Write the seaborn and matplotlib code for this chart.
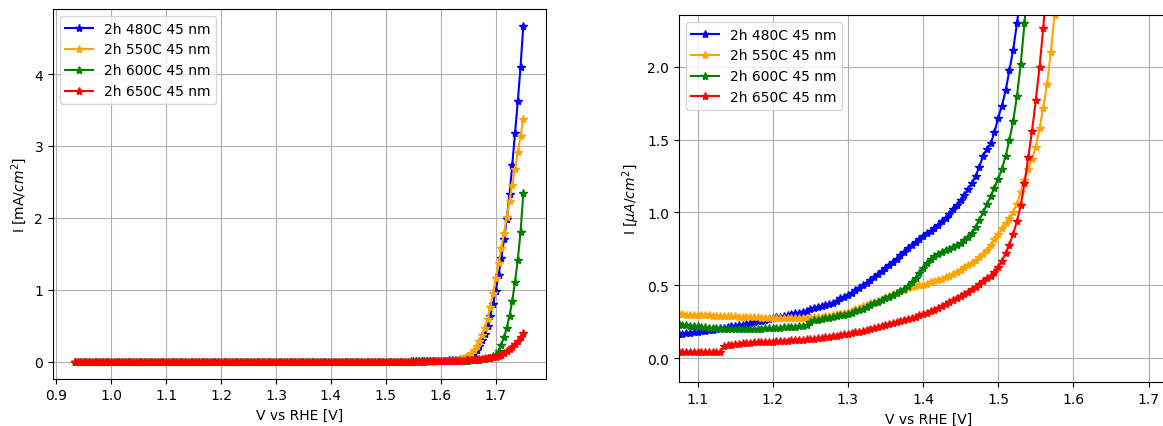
import numpy as np
import matplotlib
matplotlib.use("Agg")
import matplotlib.pyplot as plt
import seaborn as sns

# Voltage sweep grid (V vs RHE): start and step of the measurement
V_START = 0.935
V_STEP = 0.005

labels = ["2h 480C 45 nm", "2h 550C 45 nm", "2h 600C 45 nm", "2h 650C 45 nm"]
colors = ["blue", "orange", "green", "red"]

# Current densities in uA/cm^2, one value per sweep point (0.935 ... 1.750 V)
i_480 = [
    0.12, 0.121, 0.122, 0.123, 0.124, 0.125, 0.126, 0.127, 0.128, 0.129,
    0.13, 0.131, 0.133, 0.134, 0.136, 0.137, 0.139, 0.14, 0.142, 0.143,
    0.145, 0.147, 0.149, 0.151, 0.153, 0.155, 0.158, 0.161, 0.165, 0.168,
    0.172, 0.175, 0.178, 0.182, 0.185, 0.188, 0.192, 0.195, 0.199, 0.204,
    0.208, 0.212, 0.217, 0.221, 0.225, 0.23, 0.234, 0.24, 0.245, 0.251,
    0.257, 0.263, 0.268, 0.273, 0.279, 0.285, 0.29, 0.296, 0.301, 0.306,
    0.312, 0.319, 0.326, 0.334, 0.341, 0.348, 0.355, 0.362, 0.369, 0.38,
    0.395, 0.41, 0.422, 0.435, 0.45, 0.465, 0.482, 0.5, 0.518, 0.537,
    0.557, 0.577, 0.597, 0.618, 0.639, 0.66, 0.683, 0.706, 0.73, 0.754,
    0.778, 0.8, 0.82, 0.84, 0.858, 0.875, 0.895, 0.917, 0.94, 0.965,
    0.993, 1.022, 1.052, 1.083, 1.12, 1.16, 1.2, 1.25, 1.315, 1.39,
    1.435, 1.475, 1.55, 1.65, 1.735, 1.84, 1.98, 2.12, 2.3, 2.5,
    2.75, 3.0, 3.3, 3.65, 4.05, 4.5, 5.0, 5.6, 6.3, 7.1,
    8.0, 9.0, 10.2, 11.6, 13.3, 15.3, 17.7, 20.5, 24, 28,
    33, 39, 47, 58, 80, 115, 160, 220, 300, 390,
    500, 640, 800, 990, 1200, 1440, 1700, 1990, 2330, 2740,
    3180, 3620, 4100, 4670,
]

i_550 = [
    0.33, 0.33, 0.329, 0.329, 0.328, 0.327, 0.326, 0.325, 0.324, 0.323,
    0.322, 0.321, 0.32, 0.319, 0.318, 0.317, 0.316, 0.315, 0.314, 0.313,
    0.312, 0.311, 0.31, 0.309, 0.308, 0.307, 0.305, 0.304, 0.302, 0.3,
    0.299, 0.298, 0.297, 0.296, 0.295, 0.294, 0.293, 0.292, 0.291, 0.29,
    0.289, 0.288, 0.287, 0.286, 0.285, 0.284, 0.283, 0.282, 0.28, 0.279,
    0.278, 0.277, 0.276, 0.275, 0.274, 0.274, 0.273, 0.273, 0.273, 0.273,
    0.274, 0.275, 0.277, 0.279, 0.281, 0.283, 0.285, 0.288, 0.291, 0.295,
    0.3, 0.305, 0.311, 0.318, 0.326, 0.335, 0.345, 0.355, 0.365, 0.375,
    0.385, 0.395, 0.405, 0.415, 0.426, 0.437, 0.448, 0.459, 0.469, 0.478,
    0.486, 0.493, 0.499, 0.505, 0.512, 0.52, 0.528, 0.537, 0.546, 0.556,
    0.566, 0.578, 0.592, 0.607, 0.622, 0.638, 0.655, 0.673, 0.694, 0.716,
    0.742, 0.775, 0.815, 0.855, 0.89, 0.925, 0.96, 1.005, 1.06, 1.14,
    1.225, 1.3, 1.37, 1.45, 1.58, 1.72, 1.88, 2.1, 2.36, 2.7,
    3.1, 3.6, 4.2, 5.0, 6.2, 7.8, 10, 13, 17.5, 24,
    33, 45, 62, 86, 118, 160, 215, 285, 370, 470,
    600, 760, 950, 1160, 1370, 1580, 1790, 2010, 2240, 2460,
    2680, 2910, 3140, 3370,
]

i_600 = [
    0.27, 0.269, 0.268, 0.267, 0.266, 0.265, 0.264, 0.263, 0.262, 0.261,
    0.26, 0.259, 0.258, 0.257, 0.256, 0.255, 0.254, 0.253, 0.252, 0.251,
    0.25, 0.249, 0.248, 0.247, 0.246, 0.244, 0.242, 0.24, 0.234, 0.229,
    0.225, 0.222, 0.22, 0.218, 0.214, 0.211, 0.208, 0.206, 0.204, 0.202,
    0.201, 0.2, 0.2, 0.199, 0.199, 0.199, 0.199, 0.2, 0.2, 0.201,
    0.202, 0.203, 0.204, 0.205, 0.206, 0.208, 0.21, 0.212, 0.214, 0.216,
    0.219, 0.222, 0.226, 0.245, 0.258, 0.263, 0.268, 0.273, 0.278, 0.283,
    0.288, 0.293, 0.299, 0.305, 0.312, 0.32, 0.33, 0.34, 0.351, 0.362,
    0.375, 0.387, 0.398, 0.41, 0.422, 0.435, 0.448, 0.462, 0.476, 0.495,
    0.52, 0.55, 0.585, 0.62, 0.655, 0.682, 0.7, 0.715, 0.728, 0.74,
    0.752, 0.765, 0.778, 0.793, 0.81, 0.832, 0.858, 0.9, 0.95, 1.0,
    1.055, 1.11, 1.17, 1.23, 1.3, 1.39, 1.5, 1.63, 1.8, 2.02,
    2.3, 2.62, 2.85, 3.05, 3.25, 3.45, 3.65, 3.85, 4.05, 4.3,
    4.55, 4.85, 5.2, 5.6, 6.0, 6.5, 7.0, 7.6, 8.3, 9.2,
    10.3, 11.6, 13.2, 15.2, 17.6, 20.5, 24, 28.5, 34, 40,
    48, 58, 74, 95, 155, 235, 340, 470, 640, 850,
    1110, 1420, 1800, 2340,
]

i_650 = [
    0.04, 0.04, 0.04, 0.04, 0.04, 0.04, 0.04, 0.04, 0.04, 0.04,
    0.04, 0.04, 0.04, 0.04, 0.04, 0.04, 0.04, 0.04, 0.04, 0.04,
    0.04, 0.04, 0.04, 0.04, 0.04, 0.041, 0.042, 0.042, 0.043, 0.043,
    0.042, 0.041, 0.041, 0.04, 0.04, 0.04, 0.04, 0.04, 0.04, 0.04,
    0.082, 0.088, 0.092, 0.095, 0.098, 0.101, 0.103, 0.105, 0.107, 0.108,
    0.109, 0.11, 0.111, 0.112, 0.114, 0.116, 0.118, 0.119, 0.121, 0.123,
    0.125, 0.127, 0.129, 0.131, 0.134, 0.137, 0.14, 0.143, 0.146, 0.15,
    0.154, 0.158, 0.162, 0.166, 0.171, 0.176, 0.181, 0.187, 0.193, 0.2,
    0.207, 0.214, 0.221, 0.228, 0.235, 0.242, 0.249, 0.256, 0.263, 0.27,
    0.277, 0.285, 0.293, 0.302, 0.312, 0.322, 0.333, 0.344, 0.356, 0.369,
    0.383, 0.397, 0.41, 0.425, 0.44, 0.455, 0.472, 0.49, 0.508, 0.527,
    0.547, 0.567, 0.59, 0.625, 0.67, 0.72, 0.78, 0.855, 0.94, 1.05,
    1.2, 1.38, 1.56, 1.77, 2.0, 2.27, 2.6, 2.95, 3.35, 3.75,
    4.2, 4.7, 5.3, 6.0, 6.8, 7.7, 8.8, 10, 11.5, 13,
    15, 17, 19.5, 22, 25, 28.5, 32, 36, 41, 46,
    52, 58, 65, 72, 85, 100, 120, 145, 175, 210,
    250, 295, 345, 400,
]

series = [i_480, i_550, i_600, i_650]
voltage = np.round(V_START + V_STEP * np.arange(len(i_480)), 3)

fig = plt.figure(figsize=(11.63, 4.27), dpi=100)
ax1 = fig.add_axes([0.0455, 0.1112, 0.4237, 0.8653])
ax2 = fig.add_axes([0.5838, 0.1023, 0.4296, 0.8602])

for ser, lab, col in zip(series, labels, colors):
    ua = np.asarray(ser, dtype=float)
    common = dict(color=col, marker="*", markersize=6, markeredgecolor=col,
                  markeredgewidth=1.0, linewidth=1.5, estimator=None, label=lab)
    sns.lineplot(x=voltage, y=ua / 1000.0, ax=ax1, **common)
    sns.lineplot(x=voltage, y=ua, ax=ax2, **common)

ax1.set_xlabel("V vs RHE [V]")
ax1.set_ylabel("I [mA/$cm^2$]")
ax1.grid(True)
ax1.legend(loc="upper left")

ax2.set_xlim(1.0753, 1.74)
ax2.set_ylim(-0.167, 2.357)
ax2.set_xlabel("V vs RHE [V]")
ax2.set_ylabel("I [$\\mu A/cm^2$]")
ax2.grid(True)
ax2.legend(loc="upper left")

fig.savefig("out.png", dpi=100)
